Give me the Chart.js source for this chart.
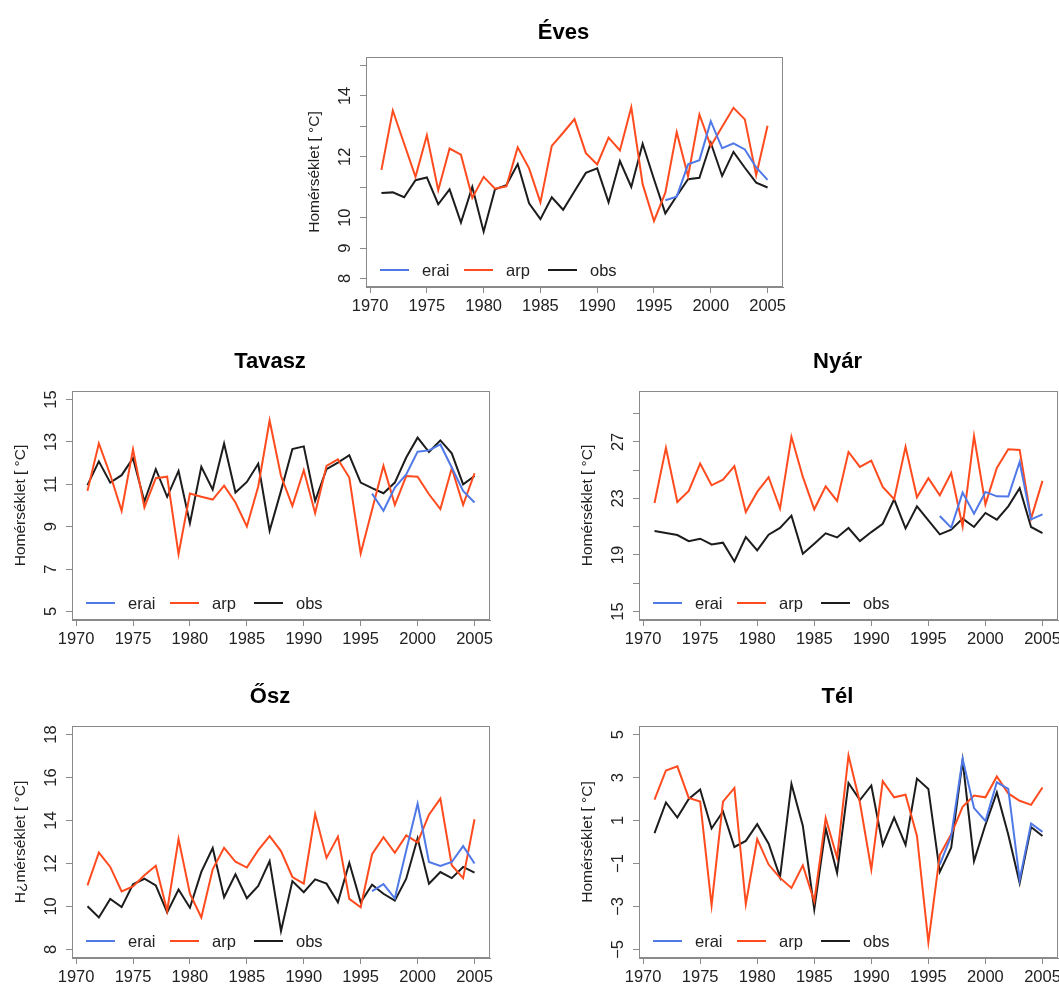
<!DOCTYPE html>
<html>
<head>
<meta charset="utf-8">
<script src="https://cdn.jsdelivr.net/npm/chart.js@4.4.1/dist/chart.umd.min.js"></script>
<style>
  html, body { margin: 0; padding: 0; background: #fff; }
  body { width: 1059px; height: 987px; position: relative; overflow: hidden; }
  canvas { position: absolute; }
</style>
</head>
<body>
<canvas id="eves"></canvas>
<canvas id="tavasz"></canvas>
<canvas id="nyar"></canvas>
<canvas id="osz"></canvas>
<canvas id="tel"></canvas>
<script>
// ---------- data ----------
const years = [1971,1972,1973,1974,1975,1976,1977,1978,1979,1980,1981,1982,1983,1984,1985,1986,1987,1988,1989,1990,1991,1992,1993,1994,1995,1996,1997,1998,1999,2000,2001,2002,2003,2004,2005];
const eraiYears = [1996,1997,1998,1999,2000,2001,2002,2003,2004,2005];
const seriesNames = ['erai', 'arp', 'obs'];
const xTicks = [1970,1975,1980,1985,1990,1995,2000,2005];
const xTickLabels = ['1970','1975','1980','1985','1990','1995','2000','2005'];

// Éves
const evesArp = [11.57,13.52,12.43,11.34,12.71,10.90,12.27,12.07,10.65,11.34,10.95,11.03,12.31,11.62,10.50,12.36,12.79,13.24,12.12,11.75,12.63,12.21,13.63,11.10,9.89,10.82,12.81,11.36,13.39,12.35,12.99,13.61,13.23,11.39,13.02];
const evesObs = [10.81,10.83,10.67,11.23,11.32,10.44,10.93,9.84,11.01,9.54,10.93,11.07,11.76,10.47,9.95,10.67,10.26,10.87,11.47,11.62,10.50,11.86,11.01,12.43,11.26,10.14,10.71,11.26,11.31,12.46,11.37,12.16,11.64,11.15,10.99];
const evesErai = [10.57,10.69,11.75,11.89,13.17,12.28,12.44,12.24,11.65,11.24];
const evesYTicks = [8,9,10,11,12,13,14,15];
const evesYLabels = ['8','9','10','','12','','14',''];

// Tavasz
const tavaszArp = [10.69,12.93,11.45,9.75,12.65,9.91,11.29,11.36,7.70,10.56,10.41,10.28,10.94,10.14,9.01,10.9,14.01,11.39,9.98,11.66,9.64,11.87,12.18,11.32,7.74,9.8,11.87,10.03,11.39,11.36,10.53,9.83,11.76,10.03,11.52];
const tavaszObs = [10.96,12.08,11.08,11.43,12.23,10.19,11.71,10.41,11.63,9.17,11.83,10.75,12.92,10.61,11.11,11.97,8.81,10.69,12.66,12.79,10.22,11.71,12.02,12.37,11.08,10.82,10.58,11.08,12.26,13.20,12.52,13.07,12.46,11.00,11.39];
const tavaszErai = [10.56,9.75,10.85,11.47,12.54,12.60,12.88,11.79,10.69,10.14];
const tavaszYTicks = [5,7,9,11,13,15];
const tavaszYLabels = ['5','7','9','11','13','15'];

// Nyár
const nyarArp = [22.68,26.58,22.75,23.53,25.47,23.93,24.33,25.28,22.04,23.46,24.50,22.28,27.36,24.52,22.23,23.86,22.82,26.29,25.23,25.68,23.81,22.94,26.65,23.08,24.43,23.22,24.80,21.02,27.40,22.58,25.16,26.48,26.43,21.57,24.24];
const nyarObs = [20.69,20.55,20.41,19.98,20.15,19.75,19.87,18.54,20.27,19.32,20.43,20.91,21.78,19.09,19.80,20.53,20.24,20.91,19.98,20.62,21.21,22.94,20.88,22.44,21.45,20.46,20.79,21.57,20.98,21.97,21.50,22.44,23.72,20.98,20.55];
const nyarErai = [21.76,20.93,23.41,21.92,23.46,23.15,23.13,25.58,21.52,21.87];
const nyarYTicks = [15,17,19,21,23,25,27,29];
const nyarYLabels = ['15','','19','','23','','27',''];

// Ősz
const oszArp = [10.98,12.51,11.84,10.70,10.93,11.45,11.89,9.80,13.14,10.59,9.49,11.73,12.73,12.08,11.81,12.62,13.27,12.58,11.37,11.06,14.30,12.26,13.25,10.35,9.96,12.43,13.22,12.50,13.31,12.98,14.27,15.02,11.92,11.32,14.06];
const oszObs = [10.01,9.49,10.35,9.97,11.03,11.29,10.98,9.72,10.79,9.94,11.61,12.72,10.43,11.50,10.38,10.95,12.11,8.86,11.18,10.66,11.26,11.06,10.19,12.03,10.19,11.01,10.59,10.27,11.29,13.17,11.06,11.60,11.32,11.84,11.57];
const oszErai = [10.71,11.04,10.38,12.6,14.78,12.07,11.89,12.07,12.81,12.0];
const oszYTicks = [8,10,12,14,16,18];
const oszYLabels = ['8','10','12','14','16','18'];

// Tél
const telArp = [1.97,3.33,3.52,2.05,1.88,-2.95,1.88,2.52,-2.89,0.13,-1.05,-1.67,-2.14,-1.09,-2.77,1.11,-0.73,4.03,1.84,-1.28,2.83,2.08,2.20,0.28,-4.67,-0.61,0.36,1.64,2.16,2.08,3.05,2.26,1.92,1.73,2.54];
const telObs = [0.41,1.84,1.14,2.00,2.44,0.63,1.42,-0.23,0.05,0.83,-0.08,-1.63,2.70,0.75,-3.13,0.64,-1.44,2.75,1.95,2.63,-0.14,1.14,-0.14,2.95,2.47,-1.39,-0.27,3.80,-0.89,0.8,2.31,0.35,-1.91,0.70,0.28];
const telErai = [-1.05,0.28,3.87,1.58,0.98,2.78,2.47,-1.75,0.86,0.47];
const telYTicks = [-5,-3,-1,1,3,5];
const telYLabels = ['\u22125','\u22123','\u22121','1','3','5'];

// ---------- styling ----------
const COLORS = { erai: '#5079E8', arp: '#FF4B1E', obs: '#1c1c1c' };
const FONT = '"Liberation Sans", Arial, Helvetica, sans-serif';
const AXIS_GRAY = '#8a8a8a';
const TEXT = '#222';
const PAD = { left: 5, top: 50, right: 12, bottom: 4 };
const YW = 65, XH = 32;

const rDecor = {
  id: 'rDecor',
  afterDatasetsDraw(chart, args, opts) {
    const { ctx, chartArea: a } = chart;
    ctx.save();
    // box
    ctx.strokeStyle = AXIS_GRAY;
    ctx.lineWidth = 1;
    ctx.strokeRect(a.left + 0.5, a.top + 0.5, a.right - a.left - 1, a.bottom - a.top - 1);
    // title
    ctx.fillStyle = '#000';
    ctx.font = 'bold 22px ' + FONT;
    ctx.textAlign = 'center';
    ctx.textBaseline = 'alphabetic';
    ctx.fillText(opts.title, (a.left + a.right) / 2 - 11, a.top - opts.titleGap);
    // legend
    ctx.font = '16.5px ' + FONT;
    ctx.textAlign = 'left';
    ctx.textBaseline = 'middle';
    const ly = a.bottom - 17;
    chart.data.datasets.forEach((ds, i) => {
      const x0 = a.left + 14 + i * 84;
      ctx.strokeStyle = ds.borderColor;
      ctx.lineWidth = 2;
      ctx.beginPath();
      ctx.moveTo(x0, ly);
      ctx.lineTo(x0 + 29, ly);
      ctx.stroke();
      ctx.fillStyle = TEXT;
      ctx.fillText(ds.label, x0 + 42, ly + 1);
    });
    ctx.restore();
  }
};

function makePanel(id, box, title, titleGap, yLabel, yMin, yMax, yTicks, yLabels, erai, arp, obs) {
  const cv = document.getElementById(id);
  const w = (box.r - box.l) + YW + PAD.left + PAD.right;
  const h = (box.b - box.t) + PAD.top + XH + PAD.bottom;
  cv.width = w; cv.height = h;
  cv.style.left = (box.l - YW - PAD.left) + 'px';
  cv.style.top = (box.t - PAD.top) + 'px';
  cv.style.width = w + 'px'; cv.style.height = h + 'px';
  const series = { erai: eraiYears.map((x, i) => ({ x, y: erai[i] })),
                   arp: years.map((x, i) => ({ x, y: arp[i] })),
                   obs: years.map((x, i) => ({ x, y: obs[i] })) };
  new Chart(cv, {
    type: 'line',
    data: {
      datasets: seriesNames.map(n => ({
        label: n, data: series[n], borderColor: COLORS[n], backgroundColor: COLORS[n],
        borderWidth: 2, pointRadius: 0, tension: 0, fill: false
      }))
    },
    options: {
      responsive: false, animation: false, devicePixelRatio: 1,
      layout: { padding: PAD },
      plugins: { legend: { display: false }, tooltip: { enabled: false },
                 rDecor: { title, titleGap } },
      scales: {
        x: {
          type: 'linear', position: 'bottom', min: 1969.64, max: 2006.36,
          afterBuildTicks: s => { s.ticks = xTicks.map(v => ({ value: v })); },
          afterFit: s => { s.height = XH; },
          grid: { display: true, drawOnChartArea: false, drawTicks: true, tickLength: 6, color: AXIS_GRAY },
          border: { display: true, color: AXIS_GRAY },
          ticks: { autoSkip: false, maxRotation: 0, minRotation: 0, padding: 4, color: TEXT,
                   font: { family: FONT, size: 16.5 },
                   callback: (v, i) => xTickLabels[i] }
        },
        y: {
          type: 'linear', min: yMin, max: yMax,
          afterBuildTicks: s => { s.ticks = yTicks.map(v => ({ value: v })); },
          afterFit: s => { s.width = YW; },
          grid: { display: true, drawOnChartArea: false, drawTicks: true, tickLength: 6, color: AXIS_GRAY },
          border: { display: true, color: AXIS_GRAY },
          title: { display: true, text: yLabel, color: TEXT, font: { family: FONT, size: 15.5 }, padding: { top: 4, bottom: 4 } },
          ticks: { autoSkip: false, minRotation: 90, maxRotation: 90, crossAlign: 'center', padding: 5, color: TEXT,
                   font: { family: FONT, size: 16.5 },
                   callback: (v, i) => yLabels[i] }
        }
      }
    },
    plugins: [rDecor]
  });
}

const LBL = 'Homérséklet [ °C]';
makePanel('eves',   { l: 366, t: 57,  r: 783,  b: 287 }, 'Éves',   18, LBL, 7.72, 15.28, evesYTicks, evesYLabels, evesErai, evesArp, evesObs);
makePanel('tavasz', { l: 72,  t: 391, r: 490,  b: 620 }, 'Tavasz', 23, LBL, 4.6, 15.4, tavaszYTicks, tavaszYLabels, tavaszErai, tavaszArp, tavaszObs);
makePanel('nyar',   { l: 639, t: 391, r: 1058, b: 620 }, 'Nyár',   23, LBL, 14.4, 30.6, nyarYTicks, nyarYLabels, nyarErai, nyarArp, nyarObs);
makePanel('osz',    { l: 72,  t: 726, r: 490,  b: 958 }, 'Ősz',    23, 'H¿mérséklet [ °C]', 7.6, 18.4, oszYTicks, oszYLabels, oszErai, oszArp, oszObs);
makePanel('tel',    { l: 639, t: 726, r: 1058, b: 958 }, 'Tél',    23, LBL, -5.4, 5.4, telYTicks, telYLabels, telErai, telArp, telObs);
</script>
</body>
</html>
